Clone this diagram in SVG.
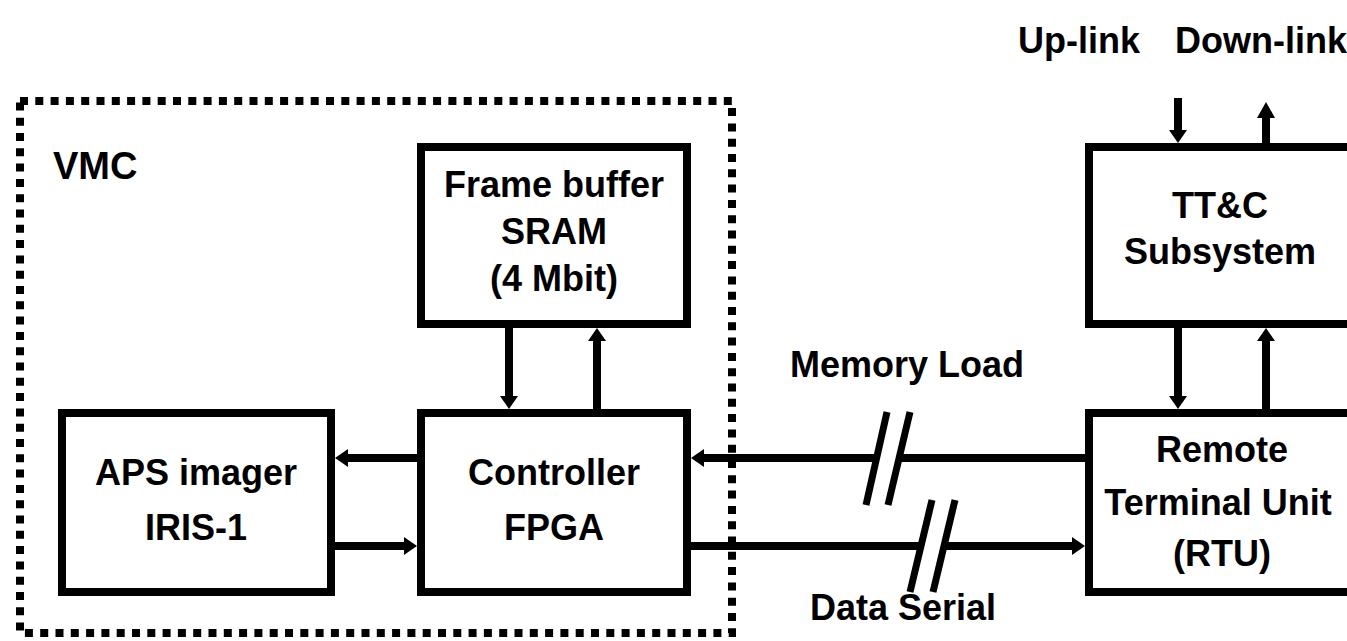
<svg xmlns="http://www.w3.org/2000/svg" width="1347" height="641" viewBox="0 0 1347 641">
<style>
.box{fill:#fff;stroke:#000;stroke-width:8}
.ln{stroke:#000;stroke-width:8;fill:none}
.hd{fill:#000}
.t{font-family:"Liberation Sans",Arial,sans-serif;font-weight:bold;font-size:36px;fill:#000}
.m{text-anchor:middle}
.brk{stroke:#000;stroke-width:7;fill:none}
</style>
<rect width="1347" height="641" fill="#fff"/>
<g id="vmc">
<rect x="20" y="101" width="712" height="532" fill="none" stroke="#000" stroke-width="8" stroke-dasharray="8 7.3"/>
<text class="t" x="53" y="179" style="font-size:38px">VMC</text>
</g>
<g id="framebuffer">
<rect class="box" x="421" y="147" width="266" height="177"/>
<text class="t m" x="554" y="197">Frame buffer</text>
<text class="t m" x="554" y="244">SRAM</text>
<text class="t m" x="554" y="291">(4 Mbit)</text>
</g>
<g id="aps">
<rect class="box" x="62" y="413" width="269" height="179"/>
<text class="t m" x="196" y="485">APS imager</text>
<text class="t m" x="196" y="540">IRIS-1</text>
</g>
<g id="controller">
<rect class="box" x="421" y="413" width="266" height="179"/>
<text class="t m" x="554" y="485">Controller</text>
<text class="t m" x="554" y="540">FPGA</text>
</g>
<g id="ttc">
<rect class="box" x="1089" y="147" width="300" height="177"/>
<text class="t m" x="1220" y="218">TT&amp;C</text>
<text class="t m" x="1220" y="264">Subsystem</text>
</g>
<g id="rtu">
<rect class="box" x="1089" y="413" width="300" height="179"/>
<text class="t m" x="1222" y="462">Remote</text>
<text class="t m" x="1218" y="515">Terminal Unit</text>
<text class="t m" x="1222" y="566">(RTU)</text>
</g>
<g id="connectors">
<line class="ln" x1="509" y1="328" x2="509" y2="398"/>
<polygon class="hd" points="500,396 518,396 509,409"/>
<line class="ln" x1="597" y1="409" x2="597" y2="339"/>
<polygon class="hd" points="588,341 606,341 597,328"/>
<line class="ln" x1="417" y1="458" x2="346" y2="458"/>
<polygon class="hd" points="348,449 348,467 335,458"/>
<line class="ln" x1="335" y1="546" x2="406" y2="546"/>
<polygon class="hd" points="404,537 404,555 417,546"/>
<line class="ln" x1="1085" y1="458" x2="702" y2="458"/>
<polygon class="hd" points="704,449 704,467 691,458"/>
<line class="ln" x1="691" y1="546" x2="1074" y2="546"/>
<polygon class="hd" points="1072,537 1072,555 1085,546"/>
<line class="ln" x1="1178" y1="98" x2="1178" y2="132"/>
<polygon class="hd" points="1169,130 1187,130 1178,143"/>
<line class="ln" x1="1266" y1="143" x2="1266" y2="116"/>
<polygon class="hd" points="1257,118 1275,118 1266,102"/>
<line class="ln" x1="1178" y1="328" x2="1178" y2="398"/>
<polygon class="hd" points="1169,396 1187,396 1178,409"/>
<line class="ln" x1="1266" y1="409" x2="1266" y2="339"/>
<polygon class="hd" points="1257,341 1275,341 1266,328"/>
<polygon points="887,412 910,412 888,505 866,505" fill="#fff"/>
<line class="brk" x1="887" y1="412" x2="866" y2="505"/>
<line class="brk" x1="910" y1="412" x2="888" y2="505"/>
<polygon points="932,500 955,500 933,592 910,592" fill="#fff"/>
<line class="brk" x1="932" y1="500" x2="910" y2="592"/>
<line class="brk" x1="955" y1="500" x2="933" y2="592"/>
</g>
<g id="labels">
<text class="t" x="790" y="377">Memory Load</text>
<text class="t" x="810" y="620">Data Serial</text>
<text class="t" x="1018" y="53">Up-link</text>
<text class="t" x="1175" y="53">Down-link</text>
</g>
</svg>
